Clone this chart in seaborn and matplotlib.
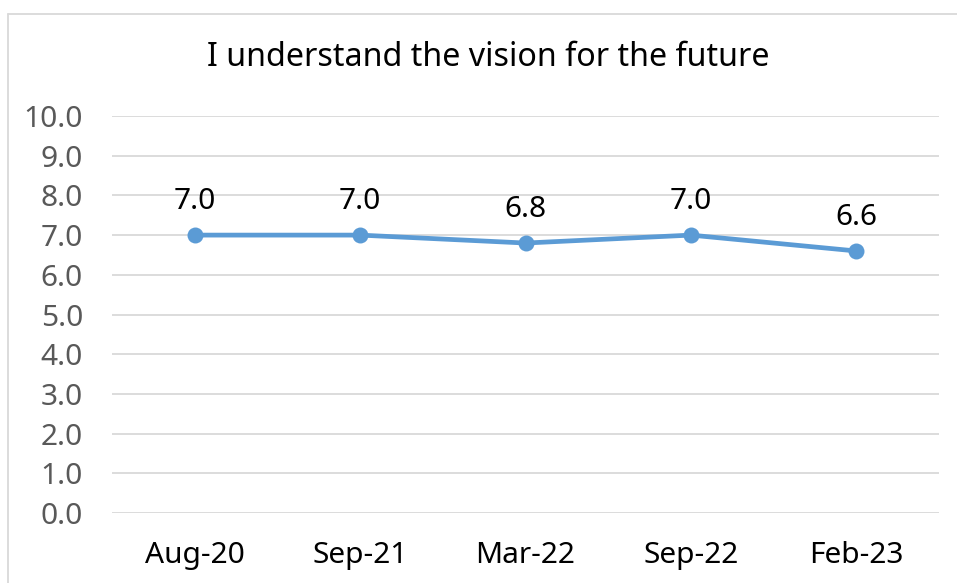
import matplotlib
matplotlib.use("Agg")
import matplotlib.pyplot as plt
import seaborn as sns
import pandas as pd
from matplotlib.lines import Line2D

categories = ["Aug-20", "Sep-21", "Mar-22", "Sep-22", "Feb-23"]
values = [7.0, 7.0, 6.8, 7.0, 6.6]
yticks = [0, 1, 2, 3, 4, 5, 6, 7, 8, 9, 10]
title = "I understand the vision for the future"

sns.set_theme(style="white")
plt.rcParams['font.family'] = ['Noto Sans', 'DejaVu Sans']

df = pd.DataFrame({"period": categories, "score": values})

fig = plt.figure(figsize=(9.57, 5.83), dpi=100)
ax = fig.add_axes([112/957, 70/583, (939-112)/957, (513-116)/583])

sns.lineplot(data=df, x="period", y="score", ax=ax, sort=False,
             color="#5B9BD5", linewidth=3.4, marker="o", markersize=11.5,
             markeredgewidth=0)

ax.set_xlim(-0.5, len(categories) - 0.5)
ax.set_ylim(0, 10)
ax.set_yticks(yticks)
ax.set_yticklabels([f"{v:.1f}" for v in yticks])
ax.grid(axis="y", color="#D9D9D9", linewidth=1.3)
ax.set_axisbelow(True)
for s in ax.spines.values():
    s.set_visible(False)
ax.tick_params(axis="y", length=0, pad=21, labelsize=21.5, labelcolor="#595959")
ax.tick_params(axis="x", length=0, pad=20, labelsize=21.5, labelcolor="#000000")
ax.set_xlabel("")
ax.set_ylabel("")

for i, v in enumerate(values):
    ax.annotate(f"{v:.1f}", (i, v), xytext=(0, 24), textcoords="offset points",
                ha="center", va="center", fontsize=21.5, color="#000000")

fig.text(488/957, 1 - 58/583, title, ha="center", va="center", fontsize=23.2, color="#000000")

# chart frame (cut off on right and bottom)
fig.add_artist(Line2D([8/957, 8/957], [0, 1 - 14/583], transform=fig.transFigure,
                      color="#D9D9D9", linewidth=1.3))
fig.add_artist(Line2D([8/957, 1], [1 - 14/583, 1 - 14/583], transform=fig.transFigure,
                      color="#D9D9D9", linewidth=1.3))

fig.savefig("out.png", dpi=100)
